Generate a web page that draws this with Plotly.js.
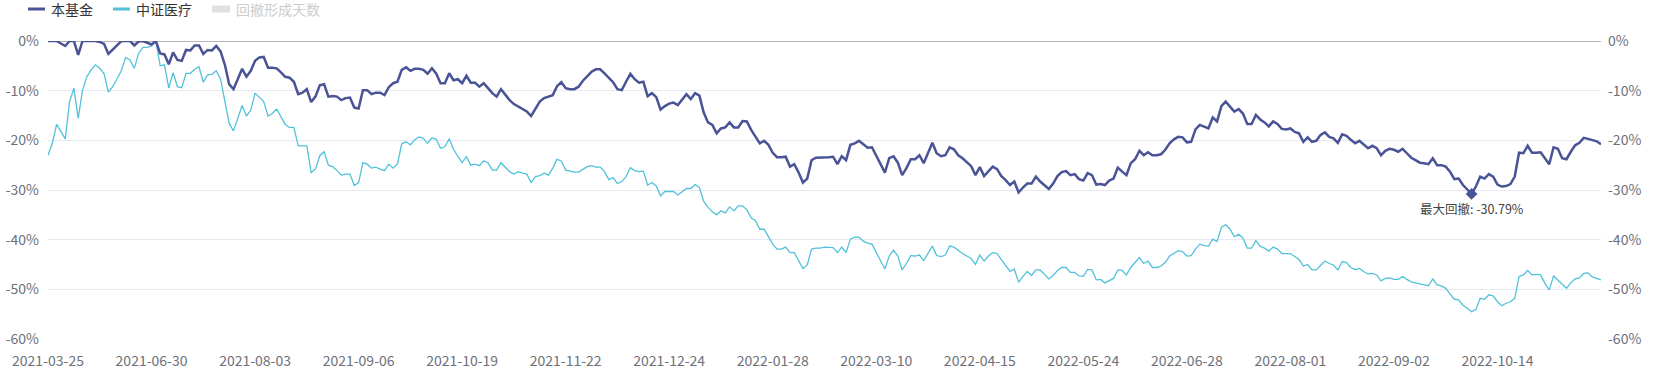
<!DOCTYPE html>
<html>
<head>
<meta charset="utf-8">
<script src="https://cdn.plot.ly/plotly-3.0.1.min.js"></script>
<style>
html,body{margin:0;padding:0;background:#fff;}
#chart{width:1657px;height:376px;}
</style>
</head>
<body>
<div id="chart"></div>
<script>
// ---- data ----
const seriesNames = ['本基金', '中证医疗', '回撤形成天数'];
const tickLabels = ['2021-03-25','2021-06-30','2021-08-03','2021-09-06','2021-10-19','2021-11-22','2021-12-24','2022-01-28','2022-03-10','2022-04-15','2022-05-24','2022-06-28','2022-08-01','2022-09-02','2022-10-14'];
const tickStep = 24; // trading days between labelled dates

// 本基金 drawdown (%), one value per trading day
const fundDrawdown = [
0,0,0,-0.5,-1.0,0,0,-2.8,0,0,0,0,-0.2,-0.6,-2.6,-1.8,-0.8,0,0,0,-0.9,-0.1,0,-0.4,-0.7,0,
-2.5,-2.7,-4.7,-2.3,-3.8,-4.0,-1.8,-1.9,-0.9,-0.9,-2.6,-1.8,-1.9,-1.0,-2.1,-4.8,-8.7,-9.7,-7.7,-5.6,-7.2,-6.0,-4.0,-3.3,-3.2,
-5.4,-5.4,-5.5,-6.3,-7.2,-7.4,-8.2,-10.7,-10.4,-9.7,-12.3,-11.2,-8.9,-8.7,-11.2,-11.1,-11.2,-11.9,-11.5,-11.4,
-13.4,-13.6,-9.9,-9.9,-10.7,-10.4,-10.4,-10.9,-9.3,-8.5,-8.2,-5.8,-5.3,-6.0,-5.6,-5.6,-5.8,-6.6,-5.5,-6.6,-8.5,-8.5,-6.5,-7.9,-7.7,-8.5,-7.0,-8.4,-8.4,-9.2,
-8.5,-9.5,-10.5,-11.2,-9.7,-10.8,-11.9,-12.7,-13.2,-13.8,-14.2,-15.1,-13.6,-12.2,-11.5,-11.2,-10.9,-9.1,-8.3,-9.5,
-9.7,-9.7,-9.2,-8.0,-7.2,-6.2,-5.7,-5.7,-6.5,-7.5,-8.3,-9.7,-9.9,-8.2,-6.6,-7.7,-8.4,-8.2,-11.1,-10.5,-11.3,
-13.8,-13.1,-12.6,-12.4,-12.9,-11.8,-10.7,-11.7,-10.5,-11.0,-14.4,-16.4,-16.9,-18.6,-17.6,-17.4,-16.4,-17.4,-17.4,
-16.1,-16.2,-17.9,-19.4,-20.6,-20.1,-20.9,-22.5,-23.4,-23.4,
-23.3,-25.3,-24.8,-26.5,-28.5,-27.7,-24.0,-23.5,-23.5,-23.5,
-23.4,-23.3,-24.8,-23.2,-24.0,-20.9,-20.6,-20.1,-20.9,-21.5,
-21.4,-23.0,-24.6,-26.5,-23.6,-23.2,-24.5,-27.0,-25.6,-23.8,
-23.8,-23.0,-24.6,-22.5,-20.5,-22.6,-23.2,-23.0,-21.4,-21.8,
-23.0,
-23.6,-24.5,-25.2,-27.0,-25.4,-27.2,-26.3,-25.3,-25.8,
-27.2,-28.0,-29.0,-28.3,-30.5,-29.5,-28.7,-28.7,-27.3,-28.3,
-29.0,-29.8,-28.7,-27.2,-26.4,-26.2,-27.0,-26.8,-27.8,-28.1,
-26.6,-27.0,-28.9,-28.8,-29.0,-28.1,-27.7,-25.5,-26.3,-27.0,
-24.6,-23.8,-22.1,-23.0,-22.4,-23.0,-23.0,-22.8,-21.9,-20.6,
-19.8,-19.3,-19.4,-20.4,-20.3,-17.8,-16.9,-17.2,-17.6,-15.4,
-16.2,-13.1,-12.2,-13.2,-14.2,-13.7,-14.6,-16.7,-16.7,-14.9,
-15.8,-16.4,
-17.2,-16.2,-16.7,-17.7,-17.8,-17.6,-18.3,-18.6,
-20.3,-19.4,-20.3,-20.1,-18.9,-18.4,-19.3,-19.6,-20.5,-18.8,
-19.1,-19.9,-20.6,-20.1,-20.9,-21.6,-21.1,-21.6,-23.0,-22.1,
-21.7,-21.9,-22.3,-21.7,-22.6,-23.5,-24.0,-24.5,-24.6,-24.8,
-23.6,-25.0,-25.0,-25.3,-26.3,-27.8,-27.7,-29.0,-29.9,-30.79,
-29.3,-27.3,-27.7,-26.8,-27.3,-28.9,-29.3,-29.2,-28.8,-27.3,
-22.5,-22.6,-21.1,-22.5,-22.5,-22.4,-23.6,-24.8,-21.4,-21.7,
-23.6,-23.8,-22.3,-21.0,-20.5,-19.5,-19.7,-20.0,-20.2,-20.8
];

// 中证医疗 drawdown (%), one value per trading day
const indexDrawdown = [
-23.0,-20.6,-16.8,-18.3,-19.7,-12.2,-9.5,-15.6,-9.9,-7.2,
-5.8,-4.8,-5.5,-6.6,-10.3,-9.2,-7.7,-6.0,-3.3,-3.8,
-5.5,-2.5,-1.3,-1.3,-1.0,0,-5.0,-4.8,-9.5,-6.4,
-9.2,-9.4,-6.5,-6.5,-5.7,-5.2,-8.3,-6.8,-6.7,-6.0,
-7.7,-11.9,-16.6,-18.1,-15.6,-13.0,-15.1,-13.9,-10.5,-11.4,
-12.2,-15.1,-14.6,-13.7,-15.4,-16.8,-17.4,-17.4,-21.1,-21.1,
-21.1,-26.5,-25.8,-23.1,-22.3,-25.0,-25.3,-26.1,-27.0,-26.8,
-26.8,
-29.1,-28.5,-24.5,-24.8,-25.6,-25.4,-25.8,-26.1,-24.8,-25.6,
-24.8,-20.7,-20.3,-20.9,-19.9,-19.3,-19.6,-20.6,-19.5,-19.8,
-21.6,-21.3,-19.7,-21.8,-23.2,-24.5,-23.3,-25.0,-24.8,-25.1,
-24.1,-24.5,-26.0,-26.0,-24.5,-25.5,-26.3,-26.8,-26.3,-26.6,
-26.8,-28.5,-27.3,-27.1,-26.6,-27.0,-25.6,-23.8,-24.2,-26.0,
-26.2,-26.4,-26.4,-25.8,-25.3,-25.1,-25.4,-25.4,-26.3,-27.9,
-27.5,-28.7,-28.3,-27.3,-25.5,-26.1,-26.3,-26.2,-29.0,-28.5,-29.2,
-31.2,-30.3,-30.3,-30.3,-31.0,-30.3,-29.7,-29.7,-28.9,
-29.5,-32.3,-33.5,-34.4,-35.0,-34.2,-34.6,-33.4,-34.2,-33.2,
-33.2,-34.0,-35.6,-36.2,-37.9,-37.9,-39.4,-40.9,-41.9,-41.9,
-41.5,-42.6,-42.6,-44.1,-45.8,-45.1,-41.9,-41.7,-41.7,-41.5,
-41.5,-41.6,-42.6,-41.5,-42.6,-39.9,-39.5,-39.5,-40.3,-40.7,
-40.9,-42.6,-44.4,-45.9,-43.3,-42.1,-43.3,-46.1,-44.8,-43.2,
-43.3,-43.1,-44.2,-42.6,-41.3,-43.2,-43.4,-43.1,-41.3,-41.5,
-42.2,
-42.8,-43.3,-43.8,-45.0,-43.1,-44.3,-43.3,-42.6,-42.8,
-44.0,-45.1,-46.4,-45.9,-48.6,-47.4,-46.4,-47.2,-46.1,-46.1,
-47.0,-47.9,-47.2,-46.2,-45.6,-45.6,-46.6,-46.6,-47.3,-47.4,
-46.0,-46.1,-48.1,-48.0,-48.7,-48.3,-47.8,-46.1,-46.2,-47.1,
-45.6,-44.6,-43.6,-44.8,-44.3,-45.6,-45.6,-45.3,-44.6,-43.3,
-42.8,-42.2,-42.4,-43.3,-43.2,-41.9,-40.9,-41.2,-41.3,-39.9,
-40.4,-37.5,-37.0,-37.9,-39.4,-38.9,-39.7,-41.7,-41.7,-40.2,
-41.3,-41.7,
-42.3,-41.5,-41.9,-42.8,-42.8,-42.8,-43.4,-44.0,
-45.3,-45.0,-46.1,-46.1,-45.2,-44.3,-44.8,-45.1,-46.1,-44.4,
-44.6,-45.6,-46.0,-45.8,-46.4,-46.9,-46.8,-47.1,-48.3,-47.8,
-47.7,-48.0,-48.0,-47.4,-48.0,-48.5,-48.7,-48.9,-49.1,-49.3,
-47.9,-49.1,-49.3,-49.8,-50.9,-52.0,-52.1,-53.2,-53.8,-54.5,
-54.0,-51.8,-52.0,-51.1,-51.3,-52.5,-53.3,-52.8,-52.5,-51.8,
-47.4,-47.1,-46.2,-47.1,-47.0,-47.1,-48.8,-50.1,-47.3,-48.1,
-49.1,-49.8,-48.7,-47.9,-47.7,-46.8,-46.7,-47.5,-47.8,-48.1
];

const yTickValues = [0,-10,-20,-30,-40,-50,-60];

// ---- styling / layout ----
const W = 1657, H = 376;
const M = {l:48, r:56, t:41, b:37};
const PW = W - M.l - M.r, PH = H - M.t - M.b;
const px = X => (X - M.l) / PW;
const py = Y => (H - M.b - Y) / PH;

const C_FUND = '#4a5396', C_INDEX = '#52c1d9', C_AXIS = '#6e7079', C_GRID = '#e6e9f2';
const FONT = '"Noto Sans CJK SC", "Noto Sans", sans-serif';

const n = Math.max(fundDrawdown.length, indexDrawdown.length);
const xs = Array.from({length: n}, (_, i) => i);
const lastIdx = n - 1;

const minVal = Math.min(...fundDrawdown);
const minIdx = fundDrawdown.indexOf(minVal);

const tickVals = tickLabels.map((_, i) => i * tickStep);
const yTickText = yTickValues.map(v => (v === 0 ? '0' : '-' + Math.abs(v)) + '%');

const traces = [
  {x: xs.slice(0, indexDrawdown.length), y: indexDrawdown, type: 'scatter', mode: 'lines', name: seriesNames[1],
   line: {color: C_INDEX, width: 1.3}, hoverinfo: 'skip'},
  {x: xs.slice(0, fundDrawdown.length), y: fundDrawdown, type: 'scatter', mode: 'lines', name: seriesNames[0],
   line: {color: C_FUND, width: 2.5}, hoverinfo: 'skip'},
  {x: [minIdx], y: [minVal], type: 'scatter', mode: 'markers', yaxis: 'y2', name: 'max',
   marker: {symbol: 'diamond', size: 9, color: C_FUND}, hoverinfo: 'skip'}
];

const yCommon = {
  range: [-60, 0], autorange: false, fixedrange: true,
  tickmode: 'array', tickvals: yTickValues, ticktext: yTickText,
  ticks: '', zeroline: false, showline: false,
  tickfont: {family: FONT, size: 14, color: C_AXIS}
};

const layout = {
  width: W, height: H, margin: M, showlegend: false,
  paper_bgcolor: '#fff', plot_bgcolor: '#fff',
  font: {family: FONT, size: 14, color: C_AXIS},
  xaxis: {range: [0, lastIdx], autorange: false, fixedrange: true,
    tickmode: 'array', tickvals: tickVals, ticktext: tickLabels,
    ticks: '', showgrid: false, zeroline: false, showline: false,
    ticklabelstandoff: 12,
    tickfont: {family: FONT, size: 14, color: C_AXIS}},
  yaxis: Object.assign({}, yCommon, {side: 'left', showgrid: true, gridcolor: C_GRID, gridwidth: 1, ticklabelstandoff: 8}),
  yaxis2: Object.assign({}, yCommon, {side: 'right', overlaying: 'y', showgrid: false, ticklabelstandoff: 6}),
  shapes: [
    {type: 'line', xref: 'paper', yref: 'y', x0: 0, x1: 1, y0: 0, y1: 0, line: {color: C_AXIS, width: 1}, layer: 'below'},
    // legend icons
    {type: 'line', xref: 'paper', yref: 'paper', x0: px(28), x1: px(45), y0: py(9), y1: py(9), line: {color: C_FUND, width: 3}},
    {type: 'line', xref: 'paper', yref: 'paper', x0: px(113), x1: px(130), y0: py(9), y1: py(9), line: {color: C_INDEX, width: 3}},
    {type: 'rect', xref: 'paper', yref: 'paper', x0: px(212), x1: px(230), y0: py(12.5), y1: py(5.5), line: {width: 0}, fillcolor: '#e0e0e0'}
  ],
  annotations: [
    {xref: 'paper', yref: 'paper', x: px(49), y: py(9), xanchor: 'left', yanchor: 'middle', showarrow: false,
     text: seriesNames[0], font: {family: FONT, size: 14, color: '#333'}},
    {xref: 'paper', yref: 'paper', x: px(134), y: py(9), xanchor: 'left', yanchor: 'middle', showarrow: false,
     text: seriesNames[1], font: {family: FONT, size: 14, color: '#333'}},
    {xref: 'paper', yref: 'paper', x: px(234), y: py(9), xanchor: 'left', yanchor: 'middle', showarrow: false,
     text: seriesNames[2], font: {family: FONT, size: 14, color: '#cccccc'}},
    {xref: 'x', yref: 'y', x: minIdx, y: minVal, yshift: -15, xanchor: 'center', yanchor: 'middle', showarrow: false,
     text: '最大回撤: ' + minVal.toFixed(2) + '%', font: {family: FONT, size: 12.5, color: '#444'}}
  ]
};

Plotly.newPlot('chart', traces, layout, {displayModeBar: false, staticPlot: true});
</script>
</body>
</html>
